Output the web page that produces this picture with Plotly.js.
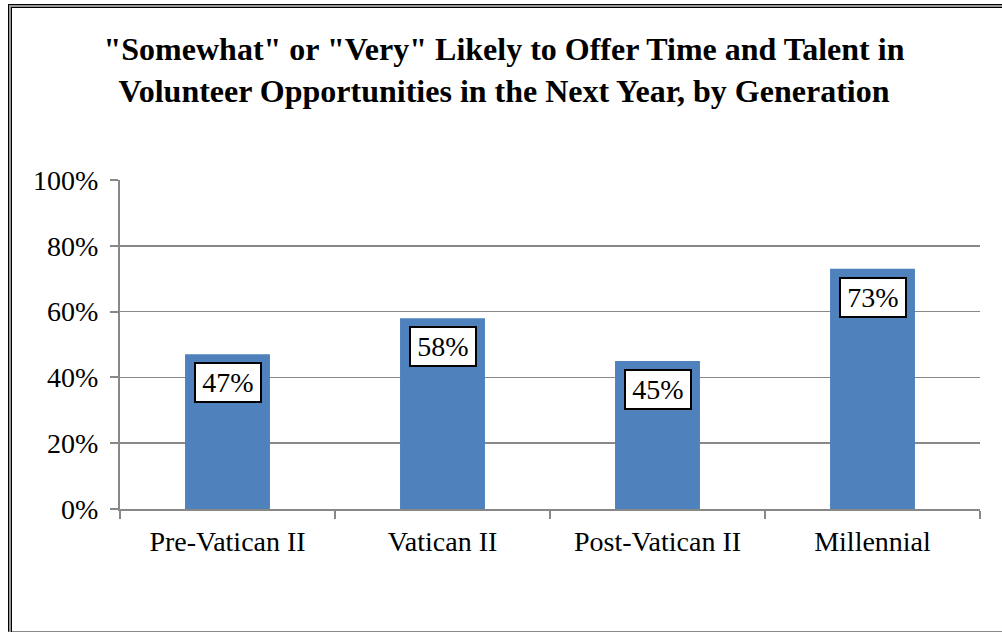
<!DOCTYPE html>
<html>
<head>
<meta charset="utf-8">
<script src="https://cdn.plot.ly/plotly-3.0.1.min.js"></script>
<style>
  html, body { margin: 0; padding: 0; background: #fff; overflow: hidden; }
  #wrap { position: relative; width: 1002px; height: 632px; overflow: hidden; }
  #chart { position: absolute; left: 0; top: 0; width: 1002px; height: 632px; }
  .frame { position: absolute; pointer-events: none; }
</style>
</head>
<body>
<div id="wrap">
  <div id="chart"></div>
  <div class="frame" style="left:8px; top:4px; width:1200px; height:626px; border-left:1px solid #000; border-top:1px solid #000; border-bottom:1px solid #888;"></div>
  <div class="frame" style="left:9px; top:5px; width:1200px; height:700px; border-left:2px solid #999; border-top:2px solid #999;"></div>
  <div class="frame" style="left:11px; top:7px; width:1200px; height:700px; border-left:1px solid #000; border-top:1px solid #000;"></div>
</div>
<script>
const categories = ["Pre-Vatican II", "Vatican II", "Post-Vatican II", "Millennial"];
const values = [47, 58, 45, 73];
const labels = ["47%", "58%", "45%", "73%"];
const tickVals = [0, 20, 40, 60, 80, 100];
const tickText = ["0%", "20%", "40%", "60%", "80%", "100%"];
const titleText = '"Somewhat" or "Very" Likely to Offer Time and Talent in<br>Volunteer Opportunities in the Next Year, by Generation';

const serif = "Liberation Serif";

const trace = {
  type: "bar",
  x: categories,
  y: values,
  width: 0.395,
  marker: { color: "#4F81BD", line: { width: 0 } },
  hoverinfo: "none"
};

const annotations = categories.map((c, i) => ({
  x: c,
  y: values[i],
  xref: "x",
  yref: "y",
  text: labels[i],
  showarrow: false,
  xanchor: "center",
  yanchor: "top",
  yshift: -8,
  width: 58,
  height: 31,
  bgcolor: "#fff",
  bordercolor: "#000",
  borderwidth: 2,
  borderpad: 3,
  font: { family: serif, size: 28, color: "#000" }
}));

const layout = {
  width: 1002,
  height: 632,
  margin: { l: 120, r: 22, t: 180, b: 123 },
  paper_bgcolor: "#fff",
  plot_bgcolor: "#fff",
  font: { family: serif, color: "#000" },
  title: {
    text: titleText,
    x: 0.503,
    xanchor: "center",
    y: 0.905,
    yanchor: "top",
    font: { family: serif, size: 32, color: "#000", weight: "bold" }
  },
  showlegend: false,
  xaxis: {
    type: "category",
    showgrid: false,
    showline: true,
    linecolor: "#888",
    linewidth: 2,
    ticks: "outside",
    tickson: "boundaries",
    ticklen: 8,
    tickcolor: "#888",
    tickwidth: 2,
    ticklabelstandoff: 6,
    tickfont: { family: serif, size: 28, color: "#000" },
    fixedrange: true
  },
  yaxis: {
    range: [0, 100],
    tickvals: tickVals,
    ticktext: tickText,
    showgrid: true,
    gridcolor: "#888",
    gridwidth: 1.5,
    zeroline: false,
    showline: true,
    linecolor: "#888",
    linewidth: 2,
    ticks: "outside",
    ticklen: 8,
    tickcolor: "#888",
    tickwidth: 2,
    ticklabelstandoff: 6,
    tickfont: { family: serif, size: 28, color: "#000" },
    fixedrange: true
  },
  annotations: annotations
};

Plotly.newPlot("chart", [trace], layout, { displayModeBar: false, staticPlot: true });
</script>
</body>
</html>
